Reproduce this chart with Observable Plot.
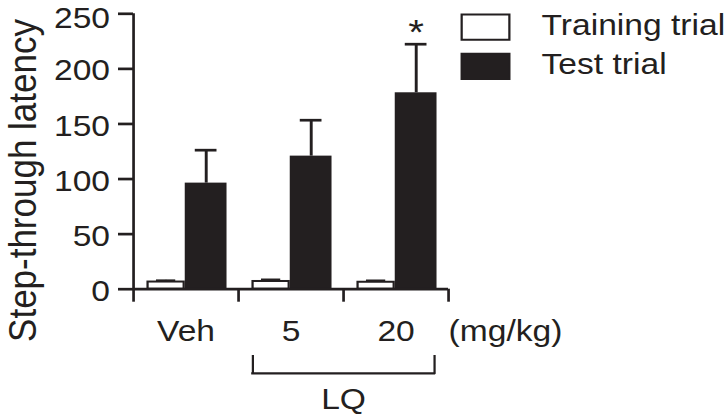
<!DOCTYPE html>
<html>
<head>
<meta charset="utf-8">
<script src="https://cdn.jsdelivr.net/npm/d3@7"></script>
<script src="https://cdn.jsdelivr.net/npm/@observablehq/plot@0.6"></script>
<style>
  html, body { margin: 0; padding: 0; background: white; }
  #chart { width: 726px; height: 415px; overflow: hidden; }
</style>
</head>
<body>
<div id="chart"></div>
<script>
// ---- data ----
const groups = ["Veh", "5", "20"];
const trainingMean = [6.5, 7, 6.3];
const trainingTop = [8, 8.8, 7.9];      // mean + SEM
const testMean = [96.3, 120.8, 178.3];
const testTop = [126.2, 153.4, 222.4];   // mean + SEM
const significance = ["", "", "*"];
const yTicks = [0, 50, 100, 150, 200, 250];
const trials = ["Training trial", "Test trial"];
const yLabel = "Step-through latency";
const unitLabel = "(mg/kg)";
const bracketFrom = "5", bracketTo = "20", bracketLabel = "LQ";

// ---- layout / style ----
const ink = "#231f20";
const FULL_W = 726, H = 415, STRETCH = 1.12;
const W = FULL_W / STRETCH;

const rows = groups.map((g, i) => ({
  g, i,
  trMean: trainingMean[i], trTop: trainingTop[i],
  teMean: testMean[i], teTop: testTop[i],
  sig: significance[i]
}));
const bracket = {from: groups.indexOf(bracketFrom), to: groups.indexOf(bracketTo) + 1, label: bracketLabel};
const edges = d3.range(groups.length + 1);
const lowerTicks = yTicks.slice(0, -1);
const topTick = yTicks.slice(-1);

const rectSym = {draw(ctx) { ctx.rect(-21.3, -12.6, 42.6, 25.2); }};

const chart = Plot.plot({
  width: W,
  height: H,
  marginLeft: 118.75,
  marginRight: W - 400,
  marginTop: 13.3,
  marginBottom: H - 288.7,
  x: {domain: [0, groups.length], label: null},
  y: {domain: [0, 250], label: null},
  style: {fontFamily: "'Liberation Sans', Arial, sans-serif", color: ink, background: "white", overflow: "visible"},
  marks: [
    // bars
    Plot.rectY(rows, {x1: d => d.i, x2: d => d.i + 1, y1: () => 0, y2: "teMean", fill: ink, insetLeft: 46.2, insetRight: 10.25}),
    Plot.rectY(rows, {x1: d => d.i, x2: d => d.i + 1, y1: () => 0, y2: "trMean", fill: "white", stroke: ink, strokeWidth: 2, insetLeft: 13, insetRight: 48.5}),
    // error bars
    Plot.ruleX(rows, {x: d => d.i + 0.5, y1: "teMean", y2: "teTop", dx: 18, stroke: ink, strokeWidth: 2.6}),
    Plot.ruleY(rows, {y: "teTop", x1: d => d.i, x2: d => d.i + 1, insetLeft: 55.15, insetRight: 19.2, stroke: ink, strokeWidth: 2.7}),
    Plot.ruleX(rows, {x: d => d.i + 0.5, y1: "trMean", y2: "trTop", dx: -17.9, stroke: ink, strokeWidth: 2}),
    Plot.ruleY(rows, {y: "trTop", x1: d => d.i, x2: d => d.i + 1, insetLeft: 20.5, insetRight: 56.05, stroke: ink, strokeWidth: 2}),
    // significance
    Plot.text(rows, {x: d => d.i + 0.5, y: "teTop", text: "sig", dx: 18, dy: 0, lineAnchor: "bottom", fontSize: 36, fill: ink}),
    // axes lines
    Plot.ruleX([0], {stroke: ink, strokeWidth: 2.4}),
    Plot.ruleY([0], {stroke: ink, strokeWidth: 2.7}),
    // y ticks and labels
    Plot.axisY({ticks: yTicks, tickSize: 13.4, tickFormat: () => "", label: null, strokeWidth: 2.7}),
    Plot.axisY({ticks: lowerTicks, tickSize: 0, tickPadding: 21, dy: 2, fontSize: 30, label: null, tickFormat: d => String(d)}),
    Plot.axisY({ticks: topTick, tickSize: 0, tickPadding: 21, dy: 4.4, fontSize: 30, label: null, tickFormat: d => String(d)}),
    // x boundary ticks
    Plot.axisX({ticks: edges, tickSize: 13, tickFormat: () => "", label: null, strokeWidth: 2.4}),
    // group labels
    Plot.text(rows, {x: d => d.i + 0.5, text: "g", frameAnchor: "bottom", lineAnchor: "bottom", dy: 51.3, fontSize: 30, fill: ink}),
    Plot.text([unitLabel], {text: d => d, frameAnchor: "bottom-right", textAnchor: "start", lineAnchor: "bottom", dx: 0, dy: 51.3, fontSize: 30, fill: ink}),
    // bracket
    Plot.ruleY([bracket], {y: () => 0, x1: "from", x2: "to", dy: 84.1, insetLeft: 11.8, insetRight: 11.5, stroke: ink, strokeWidth: 2.2}),
    Plot.ruleX([bracket], {x: "from", y1: () => 0, y2: () => 0, insetTop: 66.3, insetBottom: -85.2, dx: 12.8, stroke: ink, strokeWidth: 2}),
    Plot.ruleX([bracket], {x: "to", y1: () => 0, y2: () => 0, insetTop: 66.3, insetBottom: -85.2, dx: -12.5, stroke: ink, strokeWidth: 2}),
    Plot.text([bracket], {x: d => (d.from + d.to) / 2, text: "label", frameAnchor: "bottom", lineAnchor: "bottom", dy: 119.6, fontSize: 30, fill: ink}),
    // y label
    Plot.text([yLabel], {text: d => d, frameAnchor: "left", rotate: -90, textAnchor: "middle", lineAnchor: "bottom", dx: -87.05, dy: 29, fontSize: 35, fill: ink}),
    // legend
    Plot.dot([trials[0]], {frameAnchor: "top-right", symbol: rectSym, r: 5, fill: "white", stroke: ink, strokeWidth: 2, dx: 33, dy: 13.4}),
    Plot.dot([trials[1]], {frameAnchor: "top-right", symbol: rectSym, r: 5, fill: ink, stroke: ink, strokeWidth: 2, dx: 33, dy: 52.5}),
    Plot.text([trials[0]], {text: d => d, frameAnchor: "top-right", textAnchor: "start", lineAnchor: "bottom", dx: 83, dy: 21.5, fontSize: 30, fill: ink}),
    Plot.text([trials[1]], {text: d => d, frameAnchor: "top-right", textAnchor: "start", lineAnchor: "bottom", dx: 83, dy: 59.9, fontSize: 30, fill: ink})
  ]
});

// the reference is stretched horizontally; reproduce by widening the viewBox
chart.setAttribute("viewBox", `0 0 ${W} ${H}`);
chart.setAttribute("width", FULL_W);
chart.setAttribute("height", H);
chart.setAttribute("preserveAspectRatio", "none");
chart.style.width = FULL_W + "px";
chart.style.height = H + "px";
chart.style.maxWidth = "none";
document.getElementById("chart").appendChild(chart);
</script>
</body>
</html>
